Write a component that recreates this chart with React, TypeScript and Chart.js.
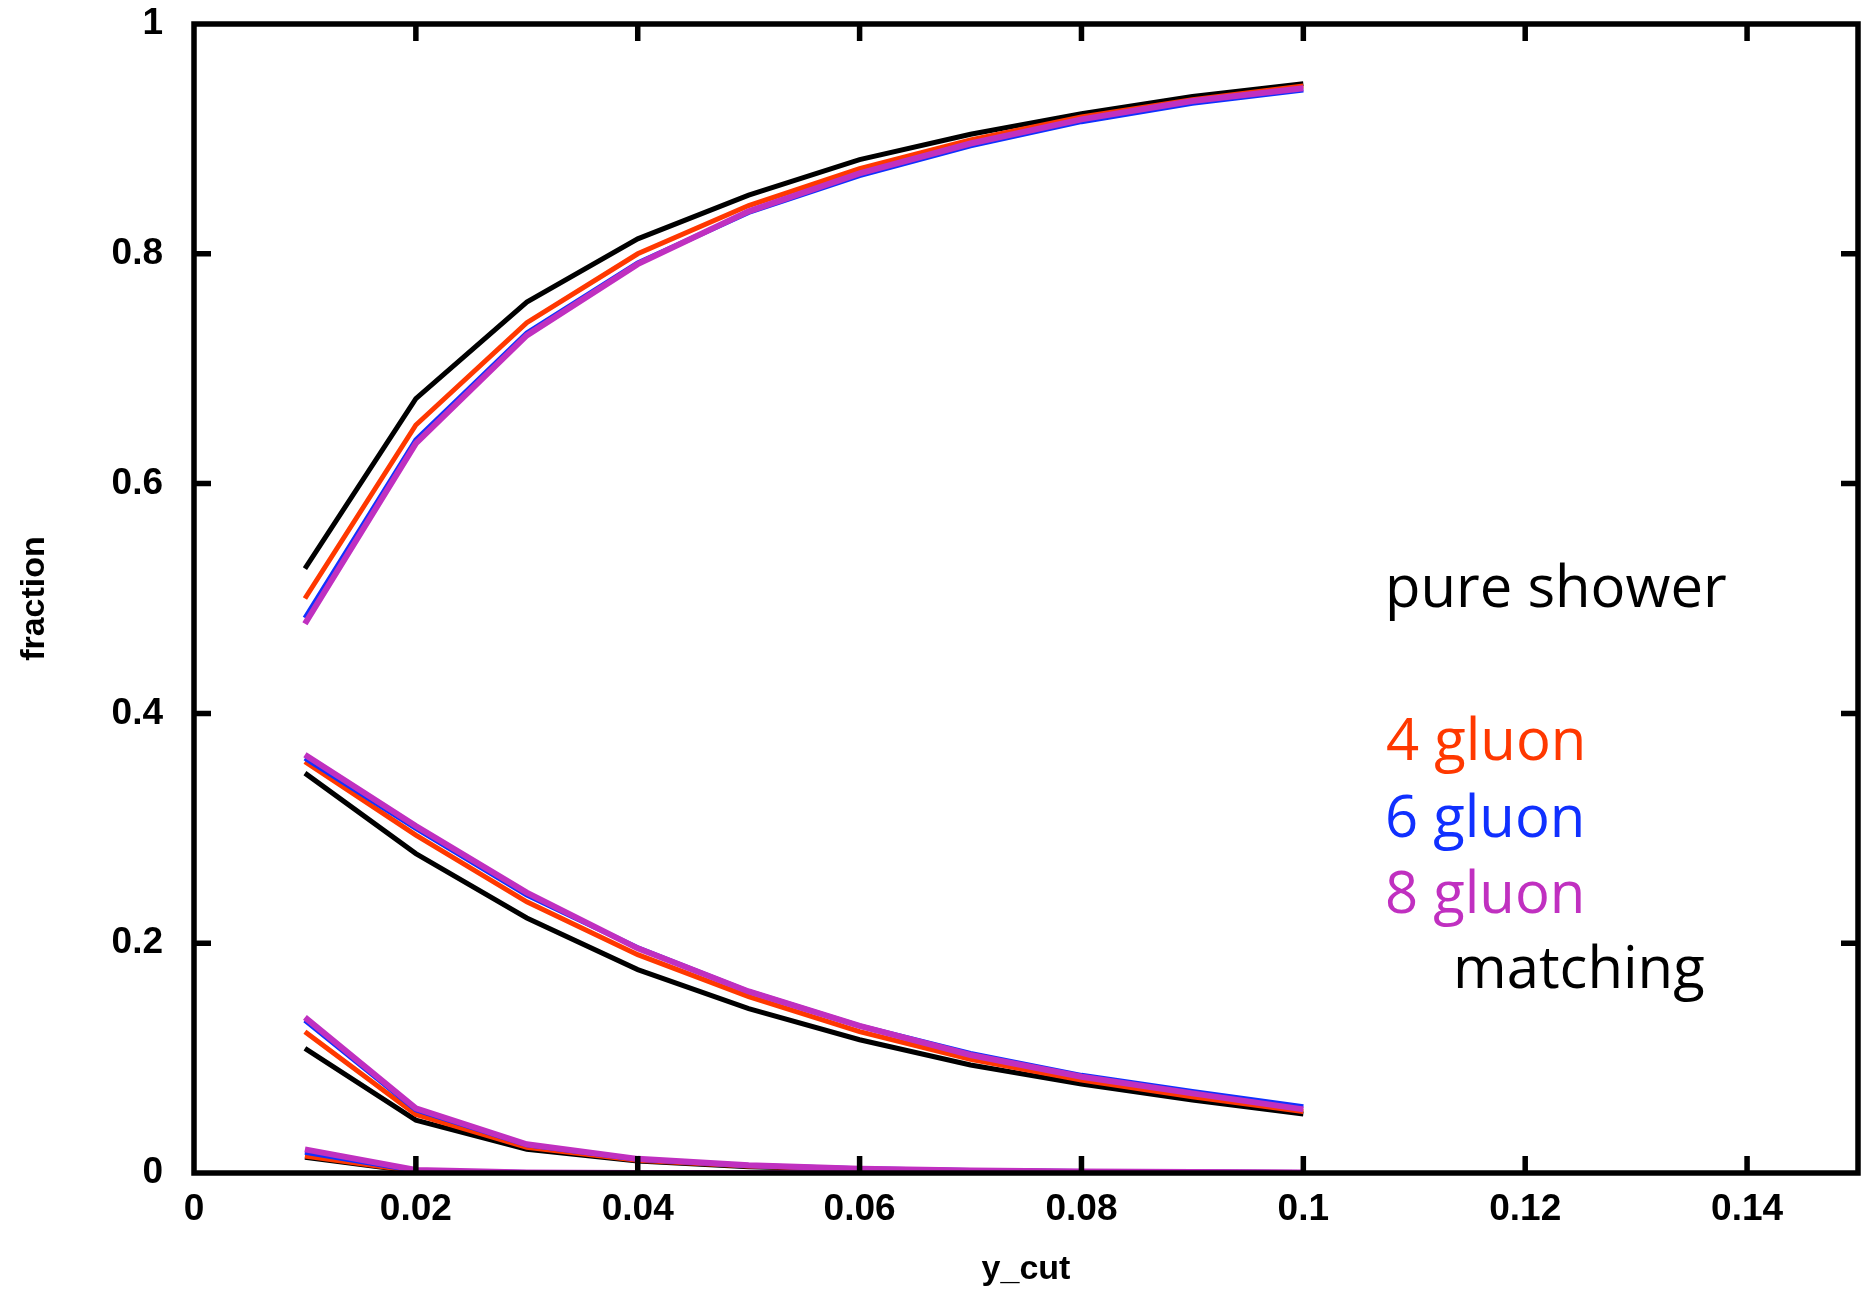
import React, { useEffect, useRef } from "react";
import { Chart, registerables } from "chart.js";

Chart.register(...registerables);

// y_cut values
const yCut = [0.01, 0.02, 0.03, 0.04, 0.05, 0.06, 0.07, 0.08, 0.09, 0.1];

// 2-jet fraction (top curves)
const twoJetMatching = [0.526, 0.674, 0.758, 0.813, 0.851, 0.882, 0.904, 0.922, 0.937, 0.948];
const twoJet4Gluon = [0.5, 0.651, 0.74, 0.8, 0.842, 0.874, 0.899, 0.919, 0.934, 0.946];
const twoJet6Gluon = [0.483, 0.638, 0.731, 0.792, 0.836, 0.868, 0.894, 0.915, 0.931, 0.9425];
const twoJet8Gluon = [0.478, 0.635, 0.729, 0.791, 0.837, 0.87, 0.896, 0.917, 0.933, 0.944];

// 3-jet fraction
const threeJetMatching = [0.348, 0.278, 0.222, 0.177, 0.143, 0.116, 0.094, 0.0775, 0.0635, 0.0513];
const threeJet4Gluon = [0.358, 0.294, 0.236, 0.19, 0.1535, 0.123, 0.099, 0.081, 0.0664, 0.0534];
const threeJet6Gluon = [0.361, 0.3, 0.242, 0.196, 0.158, 0.128, 0.104, 0.085, 0.071, 0.0577];
const threeJet8Gluon = [0.364, 0.302, 0.244, 0.1955, 0.158, 0.128, 0.1027, 0.0838, 0.0693, 0.0554];

// 4-jet fraction
const fourJetMatching = [0.1085, 0.046, 0.0206, 0.0105, 0.0055, 0.003, 0.0017, 0.001, 0.0006, 0.0004];
const fourJet4Gluon = [0.123, 0.0509, 0.0224, 0.011, 0.006, 0.0033, 0.0019, 0.0011, 0.0007, 0.0004];
const fourJet6Gluon = [0.133, 0.055, 0.0245, 0.012, 0.0065, 0.0037, 0.0021, 0.0013, 0.0008, 0.0005];
const fourJet8Gluon = [0.1355, 0.0563, 0.025, 0.0123, 0.0067, 0.0038, 0.0022, 0.0013, 0.0008, 0.0005];

// 5-jet fraction
const fiveJetMatching = [0.0136, 0.0012, 0.0002, 0, 0, 0, 0, 0, 0, 0];
const fiveJet4Gluon = [0.0148, 0.0015, 0.0003, 0.0001, 0, 0, 0, 0, 0, 0];
const fiveJet6Gluon = [0.018, 0.002, 0.0004, 0.0001, 0, 0, 0, 0, 0, 0];
const fiveJet8Gluon = [0.0206, 0.0026, 0.0005, 0.0001, 0, 0, 0, 0, 0, 0];

const xTicks = [0, 0.02, 0.04, 0.06, 0.08, 0.1, 0.12, 0.14];
const yTicks = [0, 0.2, 0.4, 0.6, 0.8, 1];

const xLabel = "y_cut";
const yLabel = "fraction";

const COLORS = {
  matching: "#000000",
  g4: "#FF3800",
  g6: "#1030FF",
  g8: "#C030C0",
};

const annotations = [
  { text: "pure shower", color: COLORS.matching, x: 1385, y: 607 },
  { text: "4 gluon", color: COLORS.g4, x: 1386, y: 760 },
  { text: "6 gluon", color: COLORS.g6, x: 1385, y: 837 },
  { text: "8 gluon", color: COLORS.g8, x: 1385, y: 913 },
  { text: "matching", color: COLORS.matching, x: 1453, y: 988 },
];

function fmt(v: number) {
  return String(parseFloat(v.toFixed(3)));
}

function mk(values: number[], color: string, width: number, order: number) {
  return {
    data: yCut.map((x, i) => ({ x, y: values[i] })),
    borderColor: color,
    backgroundColor: color,
    borderWidth: width,
    pointRadius: 0,
    pointHoverRadius: 0,
    fill: false,
    tension: 0,
    order,
  };
}

const framePlugin = {
  id: "frame",
  afterDraw(chart: any) {
    const { ctx, chartArea } = chart;
    const { left, right, top, bottom } = chartArea;
    const xs = chart.scales.x;
    const ys = chart.scales.y;
    const len = 17;
    ctx.save();
    ctx.strokeStyle = "#000";
    ctx.lineWidth = 5.5;
    ctx.lineCap = "butt";
    ctx.beginPath();
    xTicks.forEach((v) => {
      if (v <= xs.min || v >= xs.max) return;
      const px = xs.getPixelForValue(v);
      ctx.moveTo(px, bottom);
      ctx.lineTo(px, bottom - len);
      ctx.moveTo(px, top);
      ctx.lineTo(px, top + len);
    });
    yTicks.forEach((v) => {
      if (v <= ys.min || v >= ys.max) return;
      const py = ys.getPixelForValue(v);
      ctx.moveTo(left, py);
      ctx.lineTo(left + len, py);
      ctx.moveTo(right, py);
      ctx.lineTo(right - len, py);
    });
    ctx.stroke();
    ctx.lineWidth = 5.5;
    ctx.lineJoin = "miter";
    ctx.strokeRect(left, top, right - left, bottom - top);

    ctx.font = '58px "Open Sans"';
    ctx.textAlign = "left";
    ctx.textBaseline = "alphabetic";
    annotations.forEach((a) => {
      ctx.fillStyle = a.color;
      ctx.fillText(a.text, a.x, a.y);
    });
    ctx.restore();
  },
};

export default function App() {
  const ref = useRef<HTMLCanvasElement | null>(null);
  useEffect(() => {
    if (!ref.current) return;
    const datasets = [
      mk(twoJetMatching, COLORS.matching, 5, 4),
      mk(twoJet4Gluon, COLORS.g4, 5, 3),
      mk(twoJet6Gluon, COLORS.g6, 5, 2),
      mk(twoJet8Gluon, COLORS.g8, 6, 1),
      mk(threeJetMatching, COLORS.matching, 5, 4),
      mk(threeJet4Gluon, COLORS.g4, 5, 3),
      mk(threeJet6Gluon, COLORS.g6, 5, 2),
      mk(threeJet8Gluon, COLORS.g8, 6, 1),
      mk(fourJetMatching, COLORS.matching, 5, 4),
      mk(fourJet4Gluon, COLORS.g4, 5, 3),
      mk(fourJet6Gluon, COLORS.g6, 5, 2),
      mk(fourJet8Gluon, COLORS.g8, 6, 1),
      mk(fiveJetMatching, COLORS.matching, 5, 4),
      mk(fiveJet4Gluon, COLORS.g4, 5, 3),
      mk(fiveJet6Gluon, COLORS.g6, 5, 2),
      mk(fiveJet8Gluon, COLORS.g8, 6, 1),
    ];
    const tickFont = { family: '"Liberation Sans", Arial, sans-serif', size: 37, weight: "bold" as const };
    const titleFont = { family: '"Liberation Sans", Arial, sans-serif', size: 34, weight: "bold" as const };
    const chart = new Chart(ref.current, {
      type: "line",
      data: { datasets: datasets as any },
      options: {
        animation: false,
        responsive: false,
        maintainAspectRatio: false,
        layout: { padding: { top: 24, right: 12, bottom: 0, left: 0 } },
        plugins: { legend: { display: false }, tooltip: { enabled: false } },
        scales: {
          x: {
            type: "linear",
            min: 0,
            max: 0.15,
            grid: { display: false, drawTicks: false },
            border: { display: false },
            afterBuildTicks: (s: any) => {
              s.ticks = xTicks.map((v) => ({ value: v }));
            },
            afterFit: (s: any) => {
              s.height = 119;
              s.paddingLeft = 0;
              s.paddingRight = 0;
              s.paddingTop = 0;
              s.paddingBottom = 0;
            },
            ticks: {
              color: "#000",
              font: tickFont,
              padding: 15,
              maxRotation: 0,
              autoSkip: false,
              callback: (v: any) => fmt(Number(v)),
            },
            title: {
              display: true,
              text: xLabel,
              color: "#000",
              font: titleFont,
              padding: { top: 0, bottom: 2 },
            },
          },
          y: {
            type: "linear",
            min: 0,
            max: 1,
            grid: { display: false, drawTicks: false },
            border: { display: false },
            afterBuildTicks: (s: any) => {
              s.ticks = yTicks.map((v) => ({ value: v }));
            },
            afterFit: (s: any) => {
              s.width = 194;
              s.paddingLeft = 0;
              s.paddingRight = 0;
              s.paddingTop = 0;
              s.paddingBottom = 0;
            },
            ticks: {
              color: "#000",
              font: tickFont,
              padding: 31,
              autoSkip: false,
              callback: (v: any) => fmt(Number(v)),
            },
            title: {
              display: true,
              text: yLabel,
              color: "#000",
              font: titleFont,
              padding: { top: 14, bottom: 0 },
            },
          },
        },
      },
      plugins: [framePlugin],
    });
    return () => chart.destroy();
  }, []);
  return (
    <div style={{ position: "absolute", left: 0, top: 0, width: 1870, height: 1292, background: "#fff" }}>
      <canvas ref={ref} width={1870} height={1292} style={{ display: "block", width: 1870, height: 1292 }} />
    </div>
  );
}
